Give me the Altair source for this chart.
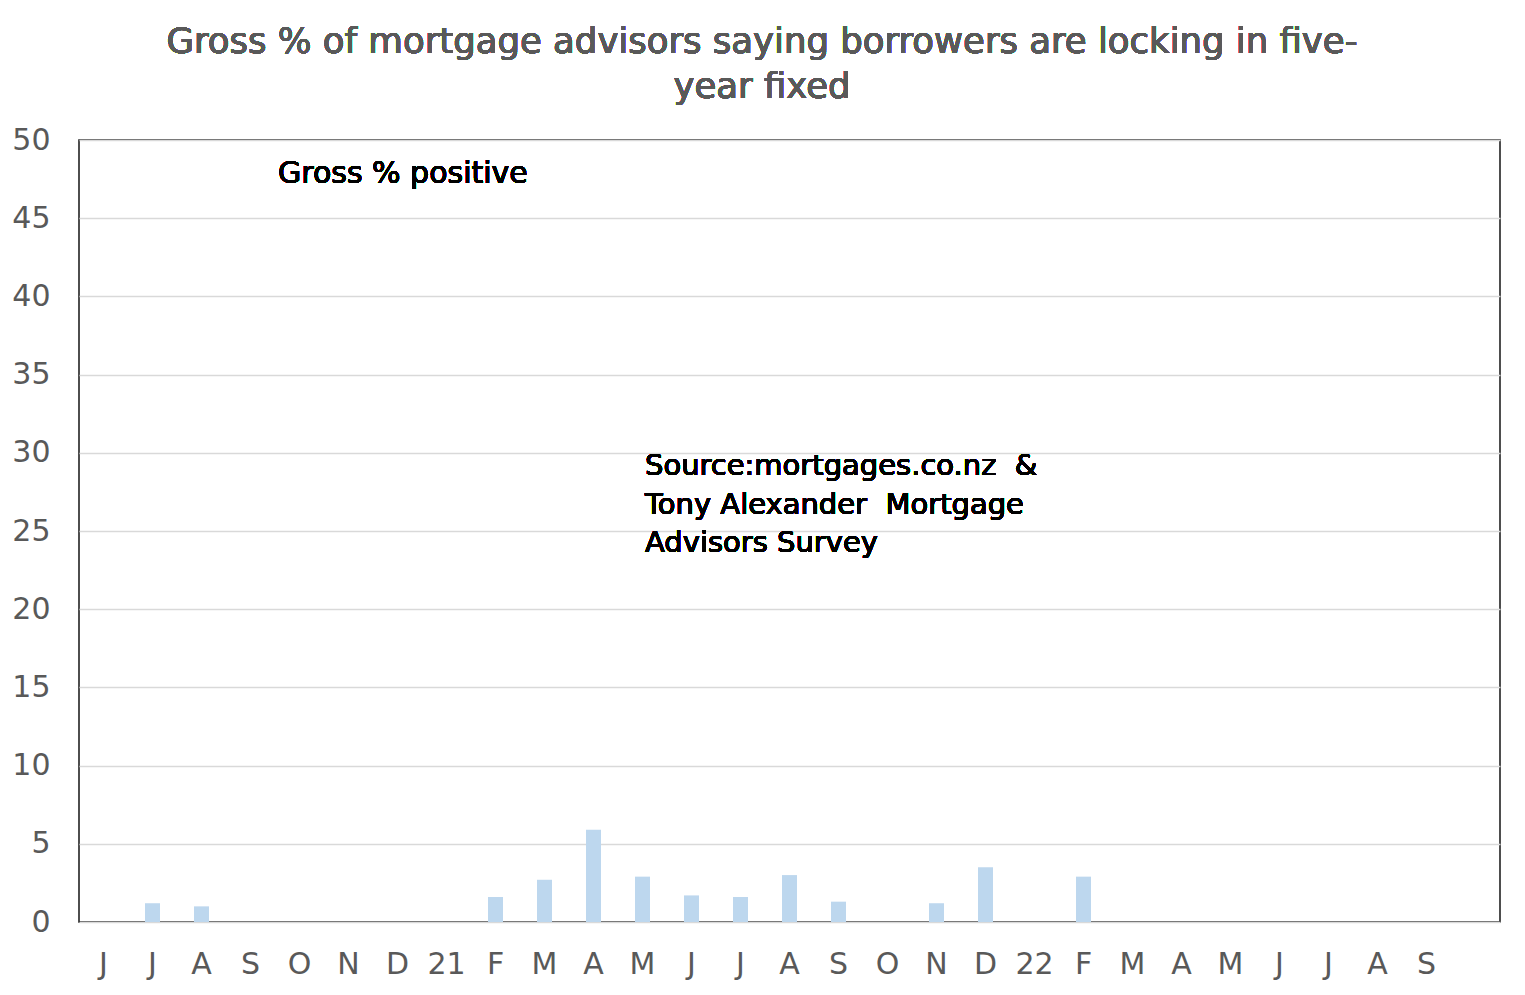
import altair as alt
import pandas as pd

# Category labels (Jun 2020 .. Sep 2022); the axis has one more empty slot at the end
month_labels = ["J", "J", "A", "S", "O", "N", "D", "21", "F", "M", "A", "M", "J", "J",
                "A", "S", "O", "N", "D", "22", "F", "M", "A", "M", "J", "J", "A", "S"]
# Gross % positive values
values = [0, 1.2, 1.0, 0, 0, 0, 0, 0, 1.6, 2.7, 5.9, 2.9, 1.7, 1.6,
          3.0, 1.3, 0, 1.2, 3.5, 0, 2.9, 0, 0, 0, 0, 0, 0, 0]

title_lines = ["Gross % of mortgage advisors saying borrowers are locking in five-",
               "year fixed"]
series_label = "Gross % positive"
source_lines = ["Source:mortgages.co.nz\u00a0\u00a0&",
                "Tony Alexander\u00a0\u00a0Mortgage",
                "Advisors Survey"]

n_slots = len(month_labels) + 1

df = pd.DataFrame({"idx": list(range(len(values))), "value": values})

label_array = "[" + ",".join("'" + s + "'" for s in month_labels) + "]"
label_expr = f"datum.value < {len(month_labels)} ? {label_array}[datum.value] : ''"

FONT = "DejaVu Sans"

bars = alt.Chart(df).mark_bar(color="#BDD7EE").encode(
    x=alt.X("idx:O",
            scale=alt.Scale(domain=list(range(n_slots)), paddingInner=0.694,
                            paddingOuter=0.347),
            axis=alt.Axis(title=None, labelExpr=label_expr,
                          labelAngle=0, labelFontSize=30, labelColor="#595959",
                          labelFont=FONT, labelPadding=27, ticks=False,
                          domain=False, grid=False)),
    y=alt.Y("value:Q",
            scale=alt.Scale(domain=[0, 50]),
            axis=alt.Axis(title=None, values=list(range(0, 55, 5)),
                          labelFontSize=30, labelColor="#595959", labelFont=FONT,
                          labelPadding=29, ticks=False, domain=False,
                          gridColor="#D9D9D9", gridWidth=1.3)),
)

title1 = alt.Chart(df).mark_text(
    text=title_lines[0], font=FONT, fontSize=35.5, color="#595959",
    align="center", baseline="alphabetic"
).encode(x=alt.value(683), y=alt.value(-87))

title2 = alt.Chart(df).mark_text(
    text=title_lines[1], font=FONT, fontSize=35.5, color="#595959",
    align="center", baseline="alphabetic"
).encode(x=alt.value(683), y=alt.value(-42))

series_txt = alt.Chart(df).mark_text(
    text=series_label, font=FONT, fontSize=30, color="#000000",
    align="left", baseline="alphabetic"
).encode(x=alt.value(199), y=alt.value(43))

source_txt = alt.Chart(df).mark_text(
    text=source_lines, font=FONT, fontSize=29, color="#000000",
    align="left", baseline="alphabetic", lineHeight=38.5
).encode(x=alt.value(566), y=alt.value(335))

chart = alt.layer(bars, title1, title2, series_txt, source_txt).properties(
    width=1421, height=782,
    autosize=alt.AutoSizeParams(type="none"),
    padding={"left": 71, "top": 132, "right": 10, "bottom": 70},
).configure(background="white").configure_view(stroke="#222222", strokeWidth=1.6)

chart.save("out.html", embed_options={"renderer": "svg", "actions": False})
